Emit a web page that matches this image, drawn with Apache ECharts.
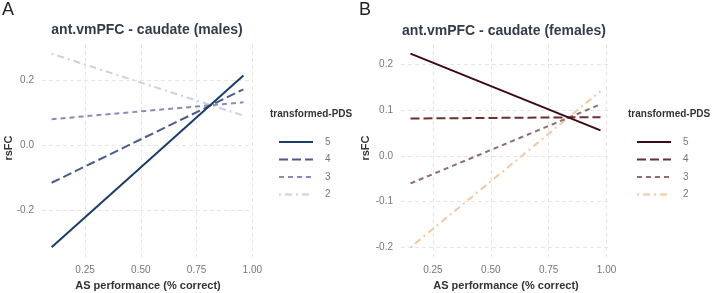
<!DOCTYPE html>
<html><head><meta charset="utf-8">
<script src="https://cdn.jsdelivr.net/npm/echarts@6/dist/echarts.min.js"></script>
<style>html,body{margin:0;padding:0;background:#fff}#c{width:712px;height:293px}</style>
</head><body><div id="c"></div>
<script>
// Data
const levels = ['5', '4', '3', '2'];
const xMales = [0.1, 0.96];
const males5 = [-0.315, 0.215];
const males4 = [-0.116, 0.172];
const males3 = [0.08, 0.132];
const males2 = [0.282, 0.091];
const xFemales = [0.153, 0.974];
const females5 = [0.224, 0.056];
const females4 = [0.082, 0.085];
const females3 = [-0.06, 0.113];
const females2 = [-0.2, 0.142];
const xTicks = [0.25, 0.5, 0.75, 1.0];
const yTicksMales = [-0.2, 0.0, 0.2];
const yTicksFemales = [-0.2, -0.1, 0.0, 0.1, 0.2];

const maleColors = ['#1b3b6b', '#4c5b8e', '#858cba', '#c9d0e8'];
const femaleColors = ['#3a0b16', '#6a3030', '#8f7068', '#f3c7a2'];
const dashes = ['solid', [9, 4], [5, 4], [2, 4, 7, 4]];
const maleVals = [males5, males4, males3, males2];
const femaleVals = [females5, females4, females3, females2];

const FONT = 'Liberation Sans';
const tickLabel = {color: '#777', fontSize: 10, fontFamily: FONT};
const gridLine = {show: true, lineStyle: {color: '#e6e6e6', type: [4, 3], width: 1}};

function xAxis(gi, min, max) {
  return {type: 'value', gridIndex: gi, min: min, max: max,
    axisLine: {show: false}, axisTick: {show: false, customValues: xTicks},
    axisLabel: Object.assign({customValues: xTicks, margin: 8, formatter: v => v.toFixed(2)}, tickLabel),
    splitLine: gridLine};
}
function yAxis(gi, min, max, ticks) {
  return {type: 'value', gridIndex: gi, min: min, max: max,
    axisLine: {show: false}, axisTick: {show: false, customValues: ticks},
    axisLabel: Object.assign({customValues: ticks, margin: 8, formatter: v => v.toFixed(1)}, tickLabel),
    splitLine: gridLine};
}

const series = [];
levels.forEach((lv, i) => {
  series.push({name: 'M' + lv, type: 'line', xAxisIndex: 0, yAxisIndex: 0, symbol: 'none',
    data: xMales.map((x, j) => [x, maleVals[i][j]]), color: maleColors[i],
    lineStyle: {width: 2, type: dashes[i], color: maleColors[i]}, z: 10 - i, silent: true, animation: false});
  series.push({name: 'F' + lv, type: 'line', xAxisIndex: 1, yAxisIndex: 1, symbol: 'none',
    data: xFemales.map((x, j) => [x, femaleVals[i][j]]), color: femaleColors[i],
    lineStyle: {width: 2, type: dashes[i], color: femaleColors[i]}, z: 10 - i, silent: true, animation: false});
});

const legendCommon = {orient: 'vertical', itemWidth: 34, itemHeight: 10, itemGap: 7.5,
  itemStyle: {opacity: 0},
  formatter: n => n.slice(1), textStyle: {color: '#777', fontSize: 10, fontFamily: FONT, padding: [0, 0, 0, 7]},
  selectedMode: false};

const titleStyle = {fill: '#333c4c', font: 'bold 14px "' + FONT + '"', textAlign: 'center', textVerticalAlign: 'middle'};
const axTitle = {fill: '#333333', font: 'bold 11px "' + FONT + '"', textAlign: 'center', textVerticalAlign: 'middle'};
const legTitle = {fill: '#333333', font: 'bold 10px "' + FONT + '"', textAlign: 'left', textVerticalAlign: 'middle'};

const chart = echarts.init(document.getElementById('c'), null, {renderer: 'canvas'});
chart.setOption({
  animation: false,
  backgroundColor: '#ffffff',
  grid: [{left: 42, top: 44, width: 211, height: 213}, {left: 401, top: 44, width: 209, height: 213}],
  xAxis: [xAxis(0, 0.057, 1.003), xAxis(1, 0.112, 1.015)],
  yAxis: [yAxis(0, -0.345, 0.312, yTicksMales), yAxis(1, -0.221, 0.245, yTicksFemales)],
  legend: [
    Object.assign({left: 273, top: 132, data: levels.map(l => 'M' + l)}, legendCommon),
    Object.assign({left: 631, top: 132, data: levels.map(l => 'F' + l)}, legendCommon)
  ],
  graphic: [
    {type: 'text', left: 2, top: 1, style: {text: 'A', fill: '#222', font: '18px "' + FONT + '"'}},
    {type: 'text', left: 359, top: 1, style: {text: 'B', fill: '#222', font: '18px "' + FONT + '"'}},
    {type: 'text', x: 147, y: 30, style: Object.assign({text: 'ant.vmPFC - caudate (males)'}, titleStyle)},
    {type: 'text', x: 504, y: 31, style: Object.assign({text: 'ant.vmPFC - caudate (females)'}, titleStyle)},
    {type: 'text', x: 148, y: 286, style: Object.assign({text: 'AS performance (% correct)'}, axTitle)},
    {type: 'text', x: 506, y: 286, style: Object.assign({text: 'AS performance (% correct)'}, axTitle)},
    {type: 'text', x: 9, y: 148, rotation: Math.PI / 2, style: Object.assign({text: 'rsFC'}, axTitle)},
    {type: 'text', x: 366, y: 148, rotation: Math.PI / 2, style: Object.assign({text: 'rsFC'}, axTitle)},
    {type: 'text', x: 270, y: 114, style: Object.assign({text: 'transformed-PDS'}, legTitle)},
    {type: 'text', x: 628, y: 114, style: Object.assign({text: 'transformed-PDS'}, legTitle)}
  ],
  series: series
});
</script></body></html>
